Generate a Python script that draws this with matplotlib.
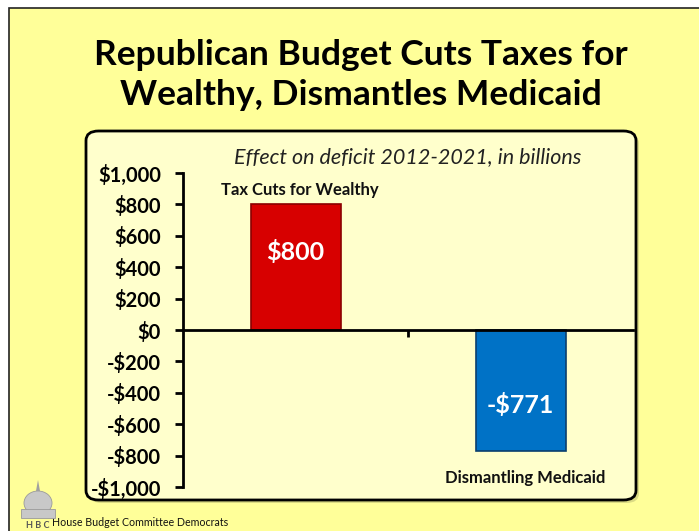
import matplotlib.pyplot as plt
from matplotlib.patches import Rectangle, FancyBboxPatch, Polygon, Ellipse

# -------------------------
# Dados
# -------------------------
categorias = ["Tax Cuts for Wealthy", "Dismantling Medicaid"]
valores = [800, -771]
rotulos_valor = ["$800", "-$771"]
cores = ["#D70000", "#0072C6"]
bordas = ["#8B0000", "#0B3F6E"]
ticks_y = [-1000, -800, -600, -400, -200, 0, 200, 400, 600, 800, 1000]
rotulos_y = ["-$1,000", "-$800", "-$600", "-$400", "-$200", "$0",
             "$200", "$400", "$600", "$800", "$1,000"]

titulo = "Republican Budget Cuts Taxes for\nWealthy, Dismantles Medicaid"
subtitulo = "Effect on deficit 2012-2021, in billions"
rodape = "House Budget Committee Democrats"

plt.rcParams['font.family'] = ['Lato', 'DejaVu Sans']

W, H = 699, 531
fig = plt.figure(figsize=(W / 100, H / 100), dpi=100)
fig.patch.set_facecolor("white")


def fx(px):
    return px / W


def fy(py):
    return 1 - py / H


# fundo amarelo
fig.patches.append(Rectangle((fx(9), -0.05), 1.1, fy(8) + 0.05,
                             transform=fig.transFigure, facecolor="#FFFF99",
                             edgecolor="#222222", linewidth=1.2, zorder=0))

# painel arredondado (sombra + caixa)
fig.patches.append(FancyBboxPatch((fx(89), fy(503)), fx(636 - 86), (503 - 134) / H,
                                  boxstyle="round,pad=0,rounding_size=0.018",
                                  transform=fig.transFigure, facecolor="#B8B870",
                                  edgecolor="none", alpha=0.5, zorder=1))
fig.patches.append(FancyBboxPatch((fx(86), fy(500)), fx(636 - 86), (500 - 131) / H,
                                  boxstyle="round,pad=0,rounding_size=0.018",
                                  transform=fig.transFigure, facecolor="#FFFFCC",
                                  edgecolor="black", linewidth=2, zorder=2))

# titulo
fig.text(fx(361), fy(75), titulo, ha="center", va="center", fontsize=25.5,
         fontweight="bold", linespacing=1.32, color="black")

fig.text(fx(408), fy(157), subtitulo, ha="center", va="center", fontsize=15.5,
         fontstyle="italic", color="#222222")

# -------------------------
# Grafico
# -------------------------
ax = fig.add_axes([fx(183), fy(487), fx(633 - 183), (487 - 173) / H], zorder=3)
ax.patch.set_alpha(0)

x = list(range(len(categorias)))
barras = ax.bar(x, valores, width=0.4, color=cores, edgecolor=bordas, linewidth=1.2)

ax.set_xlim(-0.5, 1.5)
ax.set_ylim(-1000, 1000)

for b, rot in zip(barras, rotulos_valor):
    ax.text(b.get_x() + b.get_width() / 2, b.get_height() * 0.62, rot,
            ha="center", va="center", color="white", fontsize=18, fontweight="bold")

# nomes das categorias
ax.text(x[0] + 0.02, valores[0] + 40, categorias[0], ha="center", va="bottom",
        fontsize=12, fontweight="bold", color="#111111")
ax.text(x[1] + 0.02, valores[1] - 120, categorias[1], ha="center", va="top",
        fontsize=12, fontweight="bold", color="#111111")

ax.spines["top"].set_visible(False)
ax.spines["right"].set_visible(False)
ax.spines["bottom"].set_position(("data", 0))
ax.spines["left"].set_linewidth(2)
ax.spines["bottom"].set_linewidth(2)

ax.set_yticks(ticks_y)
ax.set_yticklabels(rotulos_y, fontsize=14.5, fontweight="bold")
ax.tick_params(axis="y", direction="out", length=6, width=2, pad=10)

ax.set_xticks([0.5])
ax.set_xticklabels([""])
ax.tick_params(axis="x", direction="out", length=5, width=2)

# -------------------------
# Rodape (logo simples)
# -------------------------
cx, cy = 38, 503
fig.patches.append(Ellipse((fx(cx), fy(cy)), fx(28), 24 / H, transform=fig.transFigure,
                           facecolor="#C8C8C8", edgecolor="#9A9A9A", linewidth=0.6, zorder=4))
fig.patches.append(Rectangle((fx(cx - 17), fy(518)), fx(34), 9 / H, transform=fig.transFigure,
                             facecolor="#C8C8C8", edgecolor="#9A9A9A", linewidth=0.6, zorder=4))
fig.patches.append(Polygon([(fx(cx - 2), fy(491)), (fx(cx + 2), fy(491)), (fx(cx), fy(480))],
                           closed=True, transform=fig.transFigure,
                           facecolor="#A0A0A0", edgecolor="none", zorder=4))
fig.text(fx(cx), fy(525), "H B C", ha="center", va="center", fontsize=6.5,
         fontweight="bold", color="#555555", zorder=5)
fig.text(fx(52), fy(523), rodape, ha="left", va="center", fontsize=7.7, color="#111111")

plt.savefig("out.png", dpi=100, facecolor=fig.get_facecolor())
